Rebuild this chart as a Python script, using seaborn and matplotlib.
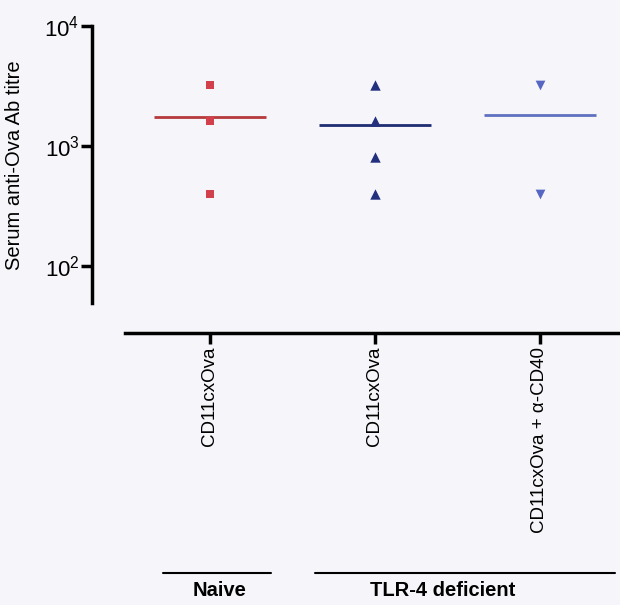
import matplotlib
matplotlib.use("Agg")
import matplotlib.pyplot as plt
import matplotlib.transforms as mtrans
from matplotlib.ticker import NullLocator
import seaborn as sns
import pandas as pd
import numpy as np

# ---- data ----
groups = ["Naive CD11cxOva", "TLR-4 CD11cxOva", "TLR-4 CD11cxOva + a-CD40"]
tick_labels = ["CD11cxOva", "CD11cxOva", "CD11cxOva + α-CD40"]
naive_titres = [3200, 1600, 400]
tlr4_titres = [3200, 1600, 800, 400]
tlr4_cd40_titres = [3200, 400]
y_ticks = [1e2, 1e3, 1e4]
group_names = ["Naive", "TLR-4 deficient"]

# ---- style ----
colors = ["#d2404c", "#23307e", "#5567c2"]
line_colors = ["#b53a3c", "#1f2d72", "#6070c0"]
markers = ["s", "^", "v"]
marker_sizes = [6, 7.5, 7]
bg = "#f6f6fa"

sns.set_theme(style="ticks")
plt.rcParams['font.family'] = ['Liberation Sans', 'DejaVu Sans']
plt.rcParams['mathtext.fontset'] = 'custom'
plt.rcParams['mathtext.rm'] = 'Liberation Sans'
plt.rcParams['mathtext.it'] = 'Liberation Sans:italic'
plt.rcParams['mathtext.bf'] = 'Liberation Sans:bold'

W, H = 620, 605
fig = plt.figure(figsize=(W / 100, H / 100), dpi=100, facecolor=bg)
ax = fig.add_axes([92 / W, 1 - 303 / H, 1 - 92 / W, (303 - 26) / H])
ax.set_facecolor(bg)

all_vals = [naive_titres, tlr4_titres, tlr4_cd40_titres]
for i, (g, vals) in enumerate(zip(groups, all_vals)):
    df = pd.DataFrame({"group": [g] * len(vals), "titre": vals})
    sns.stripplot(data=df, x="group", y="titre", order=groups, jitter=False,
                  color=colors[i], marker=markers[i], size=marker_sizes[i],
                  linewidth=0, ax=ax, log_scale=True, zorder=3)
    ax.hlines(np.mean(vals), i - 0.34, i + 0.34, color=line_colors[i],
              lw=2, zorder=2)

ymin = 48.9
ax.set_yscale('log')
ax.set_ylim(ymin, 1e4)
ax.set_xlim(-0.715, 2.485)
ax.set_yticks(y_ticks)
ax.yaxis.set_minor_locator(NullLocator())
ax.set_xticks(range(len(groups)))
ax.set_xticklabels(tick_labels)

for s in ['top', 'right']:
    ax.spines[s].set_visible(False)
ax.spines['left'].set_linewidth(2.5)
ax.spines['left'].set_bounds(ymin, 1e4)
ax.spines['bottom'].set_linewidth(2.5)
ax.spines['bottom'].set_position(('outward', 21.6))
ax.spines['bottom'].set_bounds(-0.515, 2.485)
ax.spines['left'].set_color('black')
ax.spines['bottom'].set_color('black')

ax.tick_params(axis='y', length=8, width=2.5, labelsize=16, pad=1, colors='black')
ax.tick_params(axis='x', length=8, width=2.5, labelsize=13.5, pad=2,
               colors='black', labelrotation=90)
for lab in ax.get_xticklabels():
    lab.set_verticalalignment('top')
    lab.set_horizontalalignment('center')

ax.set_xlabel('')
ax.set_ylabel("Serum anti-Ova Ab titre", fontsize=14.5, color='black')
ax.yaxis.set_label_coords(-0.128, (303 - 165) / (303 - 26))

trans = mtrans.blended_transform_factory(ax.transData, fig.transFigure)
ly = 1 - 573 / H
ty = 1 - 590 / H
ax.plot([-0.285, 0.37], [ly, ly], transform=trans, color='black', lw=1.5, clip_on=False)
ax.plot([0.636, 2.455], [ly, ly], transform=trans, color='black', lw=1.5, clip_on=False)
ax.text(0.06, ty, group_names[0], transform=trans, ha='center', va='center',
        fontsize=14.5, fontweight='bold', color='black')
ax.text(1.41, ty, group_names[1], transform=trans, ha='center', va='center',
        fontsize=14.5, fontweight='bold', color='black')

fig.savefig('out.png', dpi=100, facecolor=bg)
